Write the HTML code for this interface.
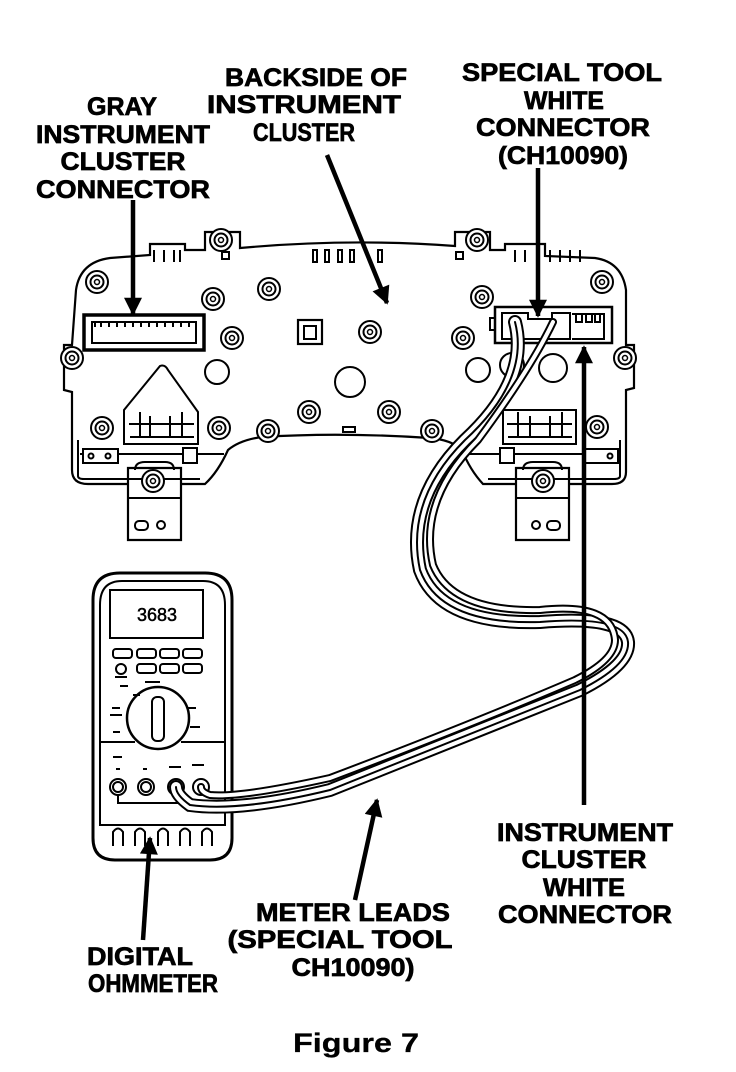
<!DOCTYPE html>
<html><head><meta charset="utf-8"><style>
html,body{margin:0;padding:0;background:#fff;}
svg{display:block;}
text{font-family:"Liberation Sans",Arial,sans-serif;font-weight:bold;font-size:25px;fill:#000;stroke:#000;stroke-width:0.7;}
</style></head><body>
<svg width="736" height="1072" viewBox="0 0 736 1072" xmlns="http://www.w3.org/2000/svg">
<defs>
<marker id="ah" viewBox="0 0 10 10" refX="9" refY="5" markerWidth="5" markerHeight="4" orient="auto-start-reverse"><path d="M0,0 L10,5 L0,10 z" fill="#000"/></marker>
<g id="boss"><circle r="11" fill="#fff" stroke="#000" stroke-width="2"/><circle r="6.5" fill="none" stroke="#000" stroke-width="2"/><circle r="2.5" fill="none" stroke="#000" stroke-width="1.5"/></g>
</defs>
<!-- labels -->
<text x="122" y="115" textLength="70" lengthAdjust="spacingAndGlyphs" text-anchor="middle">GRAY</text>
<text x="123" y="143" textLength="174" lengthAdjust="spacingAndGlyphs" text-anchor="middle">INSTRUMENT</text>
<text x="123" y="170" textLength="125" lengthAdjust="spacingAndGlyphs" text-anchor="middle">CLUSTER</text>
<text x="123" y="198" textLength="174" lengthAdjust="spacingAndGlyphs" text-anchor="middle">CONNECTOR</text>
<text x="316" y="86" textLength="182" lengthAdjust="spacingAndGlyphs" text-anchor="middle">BACKSIDE OF</text>
<text x="304" y="113" textLength="194" lengthAdjust="spacingAndGlyphs" text-anchor="middle">INSTRUMENT</text>
<text x="304" y="141" textLength="102" lengthAdjust="spacingAndGlyphs" text-anchor="middle">CLUSTER</text>
<text x="562" y="81" textLength="200" lengthAdjust="spacingAndGlyphs" text-anchor="middle">SPECIAL TOOL</text>
<text x="564" y="109" textLength="80" lengthAdjust="spacingAndGlyphs" text-anchor="middle">WHITE</text>
<text x="563" y="136" textLength="174" lengthAdjust="spacingAndGlyphs" text-anchor="middle">CONNECTOR</text>
<text x="563" y="164" textLength="130" lengthAdjust="spacingAndGlyphs" text-anchor="middle">(CH10090)</text>
<text x="585" y="841" textLength="176" lengthAdjust="spacingAndGlyphs" text-anchor="middle">INSTRUMENT</text>
<text x="584" y="868" textLength="125" lengthAdjust="spacingAndGlyphs" text-anchor="middle">CLUSTER</text>
<text x="584" y="896" textLength="82" lengthAdjust="spacingAndGlyphs" text-anchor="middle">WHITE</text>
<text x="585" y="923" textLength="174" lengthAdjust="spacingAndGlyphs" text-anchor="middle">CONNECTOR</text>
<text x="353" y="921" textLength="194" lengthAdjust="spacingAndGlyphs" text-anchor="middle">METER LEADS</text>
<text x="340" y="948" textLength="225" lengthAdjust="spacingAndGlyphs" text-anchor="middle">(SPECIAL TOOL</text>
<text x="353" y="976" textLength="123" lengthAdjust="spacingAndGlyphs" text-anchor="middle">CH10090)</text>
<text x="140" y="965" textLength="106" lengthAdjust="spacingAndGlyphs" text-anchor="middle">DIGITAL</text>
<text x="153" y="992" textLength="130" lengthAdjust="spacingAndGlyphs" text-anchor="middle">OHMMETER</text>
<text x="356" y="1052" textLength="126" lengthAdjust="spacingAndGlyphs" text-anchor="middle" style="font-size:27px;stroke-width:0.3">Figure 7</text>

<!-- cluster body -->
<g fill="#fff" stroke="#000" stroke-width="2.2">
<path d="M76,290 Q80,262 110,258 L150,255 L150,244 L185,244 L185,250 L205,250 L205,232 L240,232 L240,248 Q350,238 455,246 L455,232 L490,232 L490,250 L505,250 L505,244 L545,244 L545,256 L595,258 Q622,262 626,290 L626,345 L634,345 L634,388 L626,390 L626,472 Q626,484 612,484 L483,484 Q470,470 462,450 Q452,440 430,438 Q340,432 262,437 Q240,440 228,450 Q218,472 205,484 L88,484 Q72,484 72,470 L72,392 L64,390 L64,345 L72,345 Z"/>
<path d="M128,468 L128,540 L181,540 L181,468 Z"/>
<path d="M516,468 L516,540 L569,540 L569,468 Z"/>
</g>
<g fill="none" stroke="#000" stroke-width="2">
<path d="M78,440 L78,476 Q78,479 84,479 L200,479"/>
<path d="M620,440 L620,476 Q620,479 614,479 L488,479"/>
<path d="M80,454 L224,454 M466,454 L620,454"/>
<path d="M128,498 L181,498 M516,498 L569,498"/>
<path d="M135,470 Q135,462 145,462 L165,462 Q174,462 174,470"/>
<path d="M523,470 Q523,462 533,462 L553,462 Q562,462 562,470"/>
<rect x="83" y="449" width="35" height="14" fill="#fff"/><circle cx="91" cy="456" r="2.5"/><circle cx="108" cy="456" r="2.5"/>
<rect x="183" y="448" width="14" height="15" fill="#fff"/>
<rect x="500" y="448" width="14" height="15" fill="#fff"/>
<rect x="583" y="449" width="35" height="14" fill="#fff"/><circle cx="610" cy="456" r="2.5"/>
<rect x="135" y="521" width="13" height="9" rx="4"/><circle cx="161" cy="525" r="4"/>
<circle cx="536" cy="525" r="4"/><rect x="547" y="521" width="13" height="9" rx="4"/>
<rect x="84" y="315" width="120" height="35" stroke-width="3.5"/>
<path d="M92,322 L92,343 L196,343 L196,322 Z"/>
<path d="M95,322 L95,327 M101,322 L101,327 M109,322 L109,327 M117,322 L117,327 M125,322 L125,327 M133,322 L133,327 M141,322 L141,327 M149,322 L149,327 M157,322 L157,327 M165,322 L165,327 M173,322 L173,327 M181,322 L181,327 M189,322 L189,327"/>
<path d="M154,250 L154,262 M164,250 L164,262 M174,250 L174,262 M180,250 L180,262"/>
<path d="M515,250 L515,262 M525,250 L525,262 M550,250 L550,262 M560,250 L560,262 M570,250 L570,262 M580,250 L580,262"/>
<rect x="495" y="307" width="117" height="36" stroke-width="2.5"/>
<path d="M502,313 L502,339 L570,339 L570,313 L552,313 L552,319 L528,319 L528,313 Z"/>
<path d="M572,314 L604,314 L604,339 L572,339"/>
<path d="M576,314 L576,322 L582,322 L582,314 M586,314 L586,322 L592,322 L592,314 M595,314 L595,322 L600,322 L600,314"/>
<rect x="490" y="318" width="5" height="12"/>
<rect x="298" y="320" width="24" height="24" stroke-width="2.2"/><rect x="304" y="326" width="12" height="13"/>
<circle cx="217" cy="372" r="12"/><circle cx="350" cy="382" r="15"/>
<circle cx="478" cy="370" r="12"/><circle cx="512" cy="365" r="12"/><circle cx="553" cy="368" r="14"/>
<rect x="313" y="250" width="4" height="12"/><rect x="325" y="250" width="4" height="12"/><rect x="338" y="250" width="4" height="12"/><rect x="350" y="250" width="4" height="12"/><rect x="378" y="250" width="4" height="12"/>
<rect x="343" y="427" width="12" height="5"/>
<rect x="222" y="252" width="7" height="7"/><rect x="456" y="252" width="7" height="7"/>
<path d="M124,410 L160,366 Q165,364 168,370 L198,412 L198,444 L124,444 Z" fill="#fff"/>
<path d="M129,424 L194,424 M140,412 L140,437 M182,412 L182,437 M150,416 L150,437 M170,416 L170,437 M130,437 L194,437"/>
<rect x="503" y="410" width="73" height="34" fill="#fff"/>
<path d="M507,424 L572,424 M518,412 L518,437 M562,412 L562,437 M530,416 L530,437 M550,416 L550,437 M508,437 L572,437"/>
</g>
<g>
<use href="#boss" x="97" y="282"/><use href="#boss" x="269" y="289"/><use href="#boss" x="213" y="299"/>
<use href="#boss" x="232" y="338"/><use href="#boss" x="370" y="332"/><use href="#boss" x="482" y="297"/>
<use href="#boss" x="463" y="338"/><use href="#boss" x="602" y="282"/><use href="#boss" x="221" y="240"/>
<use href="#boss" x="477" y="240"/><use href="#boss" x="72" y="358"/><use href="#boss" x="625" y="358"/>
<use href="#boss" x="102" y="428"/><use href="#boss" x="219" y="428"/><use href="#boss" x="268" y="431"/>
<use href="#boss" x="309" y="412"/><use href="#boss" x="389" y="412"/><use href="#boss" x="432" y="431"/>
<use href="#boss" x="597" y="427"/><use href="#boss" x="153" y="481"/><use href="#boss" x="543" y="481"/>
</g>

<!-- meter -->
<g fill="#fff" stroke="#000" stroke-width="3">
<path d="M93,600 Q93,573 120,573 L205,573 Q232,573 232,600 L232,838 Q232,860 210,860 L115,860 Q93,860 93,838 Z"/>
<path d="M100,605 Q100,581 122,581 L203,581 Q225,581 225,605 L225,825 L100,825 Z" stroke-width="2"/>
<rect x="110" y="590" width="93" height="48" stroke-width="2"/>
<circle cx="158" cy="718" r="31" stroke-width="2.5"/>
<rect x="152" y="697" width="12" height="44" rx="5" stroke-width="2"/>
</g>
<text x="157" y="621" text-anchor="middle" style="font-size:18px;font-weight:normal;stroke-width:0.5">3683</text>
<g fill="none" stroke="#000" stroke-width="2">
<path d="M100,742 L135,742 M181,742 L225,742"/>
<rect x="113" y="649" width="19" height="9" rx="3"/><rect x="137" y="649" width="19" height="9" rx="3"/><rect x="160" y="649" width="19" height="9" rx="3"/><rect x="183" y="649" width="19" height="9" rx="3"/>
<circle cx="121" cy="669" r="5"/><rect x="137" y="664" width="19" height="9" rx="3"/><rect x="160" y="664" width="19" height="9" rx="3"/><rect x="183" y="664" width="19" height="9" rx="3"/>
<path d="M115,677 L127,677 M145,682 L160,682 M120,686 L128,686 M133,695 L140,695 M112,708 L120,708 M188,708 L196,708 M110,715 L122,715 M190,727 L200,727 M113,732 L120,732 M113,757 L122,757 M116,769 L120,769 M143,769 L147,769 M169,767 L181,767 M192,765 L204,765"/>
<path d="M113,846 L113,832 Q118,825 123,832 L123,846 M135,846 L135,832 Q140,825 145,832 L145,846 M158,846 L158,832 Q163,825 168,832 L168,846 M180,846 L180,832 Q185,825 190,832 L190,846 M202,846 L202,832 Q207,825 212,832 L212,846"/>
<circle cx="118" cy="787" r="8"/><circle cx="118" cy="787" r="5"/>
<circle cx="146" cy="787" r="8"/><circle cx="146" cy="787" r="5"/>
<circle cx="176" cy="787" r="8"/><circle cx="201" cy="787" r="8"/>
<path d="M118,795 L118,803 L200,803"/>
</g>

<!-- wires -->
<g fill="none" stroke-linecap="round">
<path d="M515,322 Q530,380 465,440 Q405,500 420,570 Q440,625 540,622 Q625,615 628,642 Q630,665 580,690 Q480,730 330,790 Q240,812 190,805 Q176,795 176,787" stroke="#000" stroke-width="14"/>
<path d="M515,322 Q530,380 465,440 Q405,500 420,570 Q440,625 540,622 Q625,615 628,642 Q630,665 580,690 Q480,730 330,790 Q240,812 190,805 Q176,795 176,787" stroke="#fff" stroke-width="10"/>
<path d="M515,322 Q530,380 465,440 Q405,500 420,570 Q440,625 540,622 Q625,615 628,642 Q630,665 580,690 Q480,730 330,790 Q240,812 190,805 Q176,795 176,787" stroke="#000" stroke-width="2"/>
<path d="M553,322 Q530,370 478,440 Q418,500 433,565 Q452,612 540,610 Q612,602 615,640 Q615,660 575,680 Q470,725 330,778 Q240,798 210,795 Q201,792 201,787" stroke="#000" stroke-width="8"/>
<path d="M553,322 Q530,370 478,440 Q418,500 433,565 Q452,612 540,610 Q612,602 615,640 Q615,660 575,680 Q470,725 330,778 Q240,798 210,795 Q201,792 201,787" stroke="#fff" stroke-width="4"/>
</g>

<!-- arrows -->
<g stroke="#000" stroke-width="4.5" marker-end="url(#ah)">
<line x1="133" y1="200" x2="133" y2="314"/>
<line x1="327" y1="155" x2="387" y2="303"/>
<line x1="538" y1="168" x2="538" y2="316"/>
<line x1="584" y1="805" x2="584" y2="347"/>
<line x1="355" y1="900" x2="377" y2="800"/>
<line x1="143" y1="940" x2="150" y2="838"/>
</g>
</svg>
</body></html>
